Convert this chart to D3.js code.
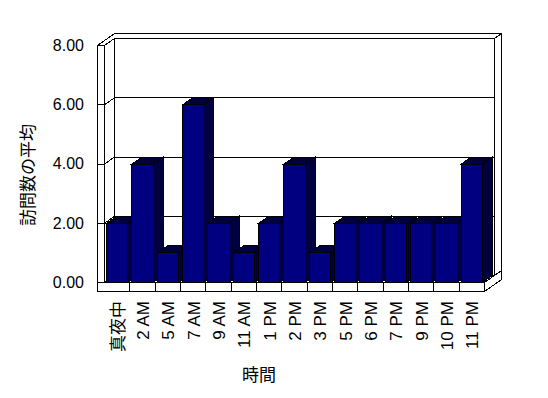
<!DOCTYPE html>
<html>
<head>
<meta charset="utf-8">
<script src="https://cdn.jsdelivr.net/npm/d3@7.9.0/dist/d3.min.js"></script>
<style>
  body { margin: 0; background: #fff; }
  svg text { font-family: "Liberation Sans", "Noto Sans CJK JP", sans-serif; fill: #000; }
</style>
</head>
<body>
<svg width="548" height="398"></svg>
<script>
const categories = ['真夜中', '2 AM', '5 AM', '7 AM', '9 AM', '11 AM', '1 PM', '2 PM', '3 PM', '5 PM', '6 PM', '7 PM', '9 PM', '10 PM', '11 PM'];
const visits = [2, 4, 1, 6, 2, 1, 2, 4, 1, 2, 2, 2, 2, 2, 4];
const yTicks = [0, 2, 4, 6, 8];
const yTitle = '訪問数の平均';
const xTitle = '時間';

const svg = d3.select('svg');

// dithered shade for bar tops and sides
const pat = svg.append('defs').append('pattern')
  .attr('id', 'dither').attr('width', 2).attr('height', 2)
  .attr('patternUnits', 'userSpaceOnUse');
pat.append('rect').attr('width', 2).attr('height', 2).attr('fill', '#000');
pat.append('rect').attr('width', 1).attr('height', 1).attr('fill', '#000080');
pat.append('rect').attr('x', 1).attr('y', 1).attr('width', 1).attr('height', 1).attr('fill', '#000080');

const x = d3.scaleBand().domain(categories).range([104, 484])
  .paddingInner(0.17).paddingOuter(0.085);
const y = d3.scaleLinear().domain([0, 8]).range([282, 45]);

// depth offsets
const dx = 10, dy = -7, tx = 7, ty = -5;
const L = 97, x0 = 104, x1 = 484, y0 = y(0), yTop = y(8), fb = 291;

const poly = pts => 'M' + pts.map(p => p.join(',')).join('L') + 'Z';

const g = svg.append('g').attr('transform', 'translate(0.5,0.5)')
  .attr('shape-rendering', 'crispEdges')
  .attr('stroke', '#000').attr('stroke-width', 1);

// walls and floor
const walls = [
  [[L, yTop], [x0, yTop], [x0 + dx, yTop + dy], [x1 + dx, yTop + dy], [x1 + dx + tx, yTop + dy + ty], [L + dx + tx, yTop + dy + ty]],
  [[x0 + dx, yTop + dy], [x1 + dx, yTop + dy], [x1 + dx, y0 + dy], [x0 + dx, y0 + dy]],
  [[x1 + dx, yTop + dy], [x1 + dx + tx, yTop + dy + ty], [x1 + dx + tx, y0 + dy + ty], [x1 + dx, y0 + dy]],
  [[x0, yTop], [x0 + dx, yTop + dy], [x0 + dx, y0 + dy], [x0, y0]],
  [[L, yTop], [x0, yTop], [x0, y0], [L, y0]],
  [[x0, y0], [x1, y0], [x1 + dx, y0 + dy], [x0 + dx, y0 + dy]],
  [[L, y0], [x1, y0], [x1, fb], [L, fb]],
  [[x1, y0], [x1 + dx + tx, y0 + dy + ty], [x1 + dx + tx, fb + dy + ty], [x1, fb]]
];
walls.forEach(w => g.append('path').attr('d', poly(w)).attr('fill', '#fff'));

// gridlines
yTicks.filter(v => v > 0 && v < 8).forEach(v => {
  g.append('path').attr('fill', 'none')
    .attr('d', `M${L},${y(v)}L${x0},${y(v)}L${x0 + dx},${y(v) + dy}L${x1 + dx},${y(v) + dy}`);
});

// category ticks on the floor front
categories.slice(1).forEach(c => {
  const bx = x(c) - x.step() * x.paddingInner() / 2;
  g.append('line').attr('x1', bx).attr('x2', bx).attr('y1', y0).attr('y2', fb);
});

// bars
categories.forEach((c, i) => {
  const bx = x(c), w = x.bandwidth(), top = y(visits[i]);
  g.append('path').attr('fill', 'url(#dither)')
    .attr('d', poly([[bx + w, top], [bx + w + dx, top + dy], [bx + w + dx, y0 + dy], [bx + w, y0]]));
  g.append('path').attr('fill', 'url(#dither)')
    .attr('d', poly([[bx, top], [bx + dx, top + dy], [bx + w + dx, top + dy], [bx + w, top]]));
  g.append('rect').attr('fill', '#000080')
    .attr('x', bx).attr('y', top).attr('width', w).attr('height', y0 - top);
});

// y labels
svg.selectAll('.ylab').data(yTicks).join('text')
  .attr('x', 84).attr('y', d => y(d)).attr('dy', '0.36em')
  .attr('text-anchor', 'end').attr('font-size', 16)
  .text(d => d.toFixed(2));

// x labels
svg.selectAll('.xlab').data(categories).join('text')
  .attr('transform', d => `translate(${x(d) + x.bandwidth() / 2 + 1},301) rotate(-90)`)
  .attr('dy', '0.36em').attr('text-anchor', 'end').attr('font-size', 17)
  .text(d => d);

svg.append('text').attr('transform', 'translate(28,175) rotate(-90)')
  .attr('dy', '0.36em').attr('text-anchor', 'middle').attr('font-size', 17)
  .text(yTitle);

svg.append('text').attr('x', 259).attr('y', 375)
  .attr('dy', '0.36em').attr('text-anchor', 'middle').attr('font-size', 17)
  .text(xTitle);
</script>
</body>
</html>
